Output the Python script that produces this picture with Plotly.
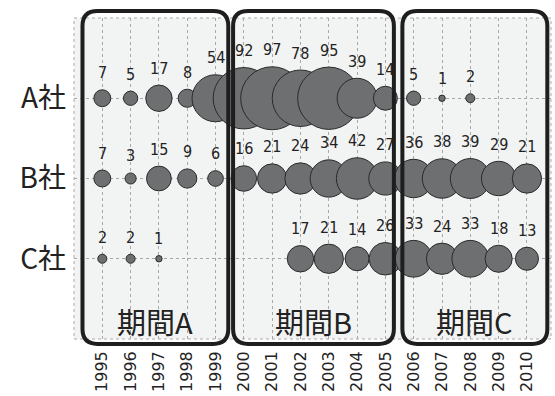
import math
import plotly.graph_objects as go

years = list(range(1995, 2011))
companies = ["A社", "B社", "C社"]
row_y = {"A社": 2, "B社": 1, "C社": 0}

a_values = [7, 5, 17, 8, 54, 92, 97, 78, 95, 39, 14, 5, 1, 2, None, None]
b_values = [7, 3, 15, 9, 6, 16, 21, 24, 34, 42, 27, 36, 38, 39, 29, 21]
c_values = [2, 2, 1, None, None, None, None, 17, 21, 14, 26, 33, 24, 33, 18, 13]

periods = ["期間A", "期間B", "期間C"]
period_bounds = [(1994.3, 1999.45), (1999.62, 2005.3), (2005.6, 2010.72)]

series = {"A社": a_values, "B社": b_values, "C社": c_values}

D_MAX = 63
vmax = max(v for vals in series.values() for v in vals if v is not None)

# plot geometry (px) for decorations
PX_PER_YEAR = 28.29
PLOT_H = 324
X_RANGE = [1994.0, 2010.85]
Y_RANGE = [-1, 3]

fig = go.Figure()
annotations = []
num_font = dict(family="Liberation Sans Narrow, DejaVu Sans Condensed, Arial Narrow, sans-serif",
                size=16, color="#222222")

for comp in companies:
    vals = series[comp]
    xs = [y for y, v in zip(years, vals) if v is not None]
    vs = [v for v in vals if v is not None]
    sizes = [D_MAX * math.sqrt(v / vmax) for v in vs]
    fig.add_trace(go.Scatter(
        x=xs, y=[row_y[comp]] * len(xs), mode="markers",
        marker=dict(size=sizes, sizemode="diameter", color="#6e6f71",
                    line=dict(color="#2a2a2a", width=1), opacity=1),
        showlegend=False, hoverinfo="skip"))
    for x, v, s in zip(xs, vs, sizes):
        annotations.append(dict(x=x, y=row_y[comp], text=str(v), showarrow=False,
                                yanchor="middle", xanchor="center",
                                yshift=s / 2 + 17, font=num_font))

# period labels
for name, (x0, x1) in zip(periods, period_bounds):
    annotations.append(dict(x=(x0 + x1) / 2, y=-0.77, text=name, showarrow=False,
                            xanchor="center", yanchor="middle",
                            font=dict(family="Noto Sans CJK JP", size=29, color="#222222")))

# rounded rectangles (x in data units, y in paper units)
r_px = 15
rx = r_px / PX_PER_YEAR
ry = r_px / PLOT_H
shapes = []
ytop, ybot = 1.0216, -0.0154
for (x0, x1) in period_bounds:
    path = (f"M {x0+rx},{ytop} L {x1-rx},{ytop} Q {x1},{ytop} {x1},{ytop-ry} "
            f"L {x1},{ybot+ry} Q {x1},{ybot} {x1-rx},{ybot} "
            f"L {x0+rx},{ybot} Q {x0},{ybot} {x0},{ybot+ry} "
            f"L {x0},{ytop-ry} Q {x0},{ytop} {x0+rx},{ytop} Z")
    shapes.append(dict(type="path", path=path, xref="x", yref="paper",
                       line=dict(color="#1e1e1e", width=4), layer="above"))

# dotted plot border
shapes.append(dict(type="rect", xref="paper", yref="paper", x0=0, x1=1, y0=0, y1=1,
                   line=dict(color="#aaaaaa", width=1, dash="dot"), layer="below"))

fig.update_layout(
    width=555, height=396,
    margin=dict(l=74, r=4, t=18, b=54),
    paper_bgcolor="white", plot_bgcolor="#f2f3f3",
    annotations=annotations, shapes=shapes,
    xaxis=dict(range=X_RANGE, tickmode="array", tickvals=years,
               ticktext=[str(y) for y in years], tickangle=-90,
               showgrid=True, gridcolor="#a8a8a8", griddash="dot", gridwidth=1,
               zeroline=False, showline=False, ticks="", ticklabelstandoff=8,
               tickfont=dict(family="DejaVu Sans", size=16, color="#222222"),
               fixedrange=True),
    yaxis=dict(range=Y_RANGE, tickmode="array", tickvals=[row_y[c] for c in companies],
               ticktext=companies,
               showgrid=True, gridcolor="#a8a8a8", griddash="dot", gridwidth=1,
               zeroline=False, showline=False, ticks="", ticklabelstandoff=7,
               tickfont=dict(family="Noto Sans CJK JP", size=28, color="#222222"),
               fixedrange=True),
)

fig.write_html("out.html")
